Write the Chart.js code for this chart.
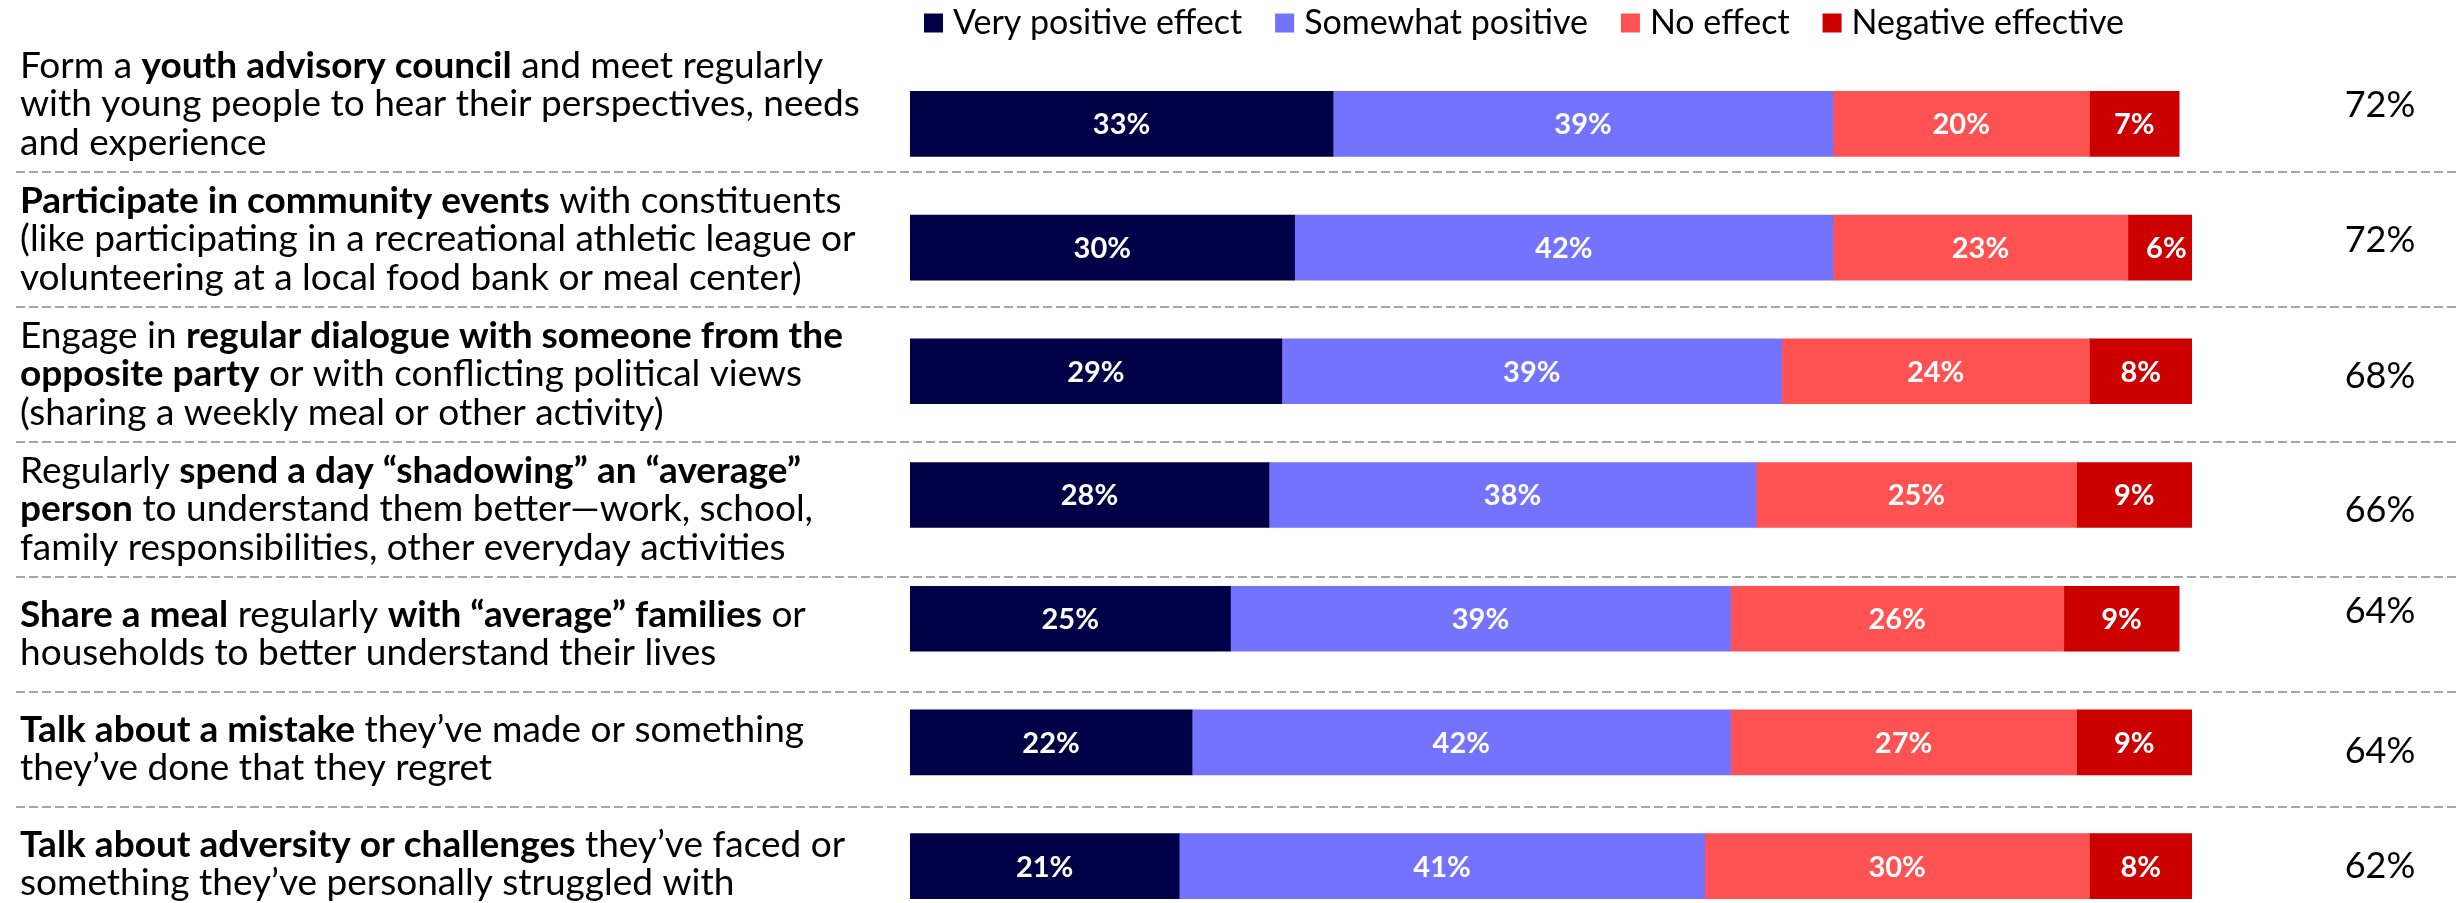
<!DOCTYPE html>
<html><head><meta charset="utf-8">
<script src="https://cdn.jsdelivr.net/npm/chart.js@4.4.1/dist/chart.umd.min.js"></script>
<style>
html,body{margin:0;padding:0;width:2463px;height:903px;overflow:hidden;background:#fff;}
#wrap{position:relative;width:2463px;height:930px;}
</style></head><body>
<div id="wrap"><canvas id="c"></canvas></div>
<script>
// ---- data ----
const categories = [
  'Form a youth advisory council and meet regularly with young people to hear their perspectives, needs and experience',
  'Participate in community events with constituents (like participating in a recreational athletic league or volunteering at a local food bank or meal center)',
  'Engage in regular dialogue with someone from the opposite party or with conflicting political views (sharing a weekly meal or other activity)',
  'Regularly spend a day “shadowing” an “average” person to understand them better—work, school, family responsibilities, other everyday activities',
  'Share a meal regularly with “average” families or households to better understand their lives',
  'Talk about a mistake they’ve made or something they’ve done that they regret',
  'Talk about adversity or challenges they’ve faced or something they’ve personally struggled with'
];
// same labels, split into lines as in the reference; **...** = bold
const labelLines = [
  ['Form a **youth advisory council** and meet regularly', 'with young people to hear their perspectives, needs', 'and experience'],
  ['**Participate in community events** with constituents', '(like participating in a recreational athletic league or', 'volunteering at a local food bank or meal center)'],
  ['Engage in **regular dialogue with someone from the**', '**opposite party** or with conflicting political views', '(sharing a weekly meal or other activity)'],
  ['Regularly **spend a day “shadowing” an “average”**', '**person** to understand them better—work, school,', 'family responsibilities, other everyday activities'],
  ['**Share a meal** regularly **with “average” families** or', 'households to better understand their lives'],
  ['**Talk about a mistake** they’ve made or something', 'they’ve done that they regret'],
  ['**Talk about adversity or challenges** they’ve faced or', 'something they’ve personally struggled with']
];
const seriesNames = ['Very positive effect', 'Somewhat positive', 'No effect', 'Negative effective'];
const veryPositive     = [33, 30, 29, 28, 25, 22, 21];
const somewhatPositive = [39, 42, 39, 38, 39, 42, 41];
const noEffect         = [20, 23, 24, 25, 26, 27, 30];
const negativeEffect   = [7, 6, 8, 9, 9, 9, 8];
const totals           = [72, 72, 68, 66, 64, 64, 62];

// ---- styles ----
const colors = ['#000046', '#7373FF', '#FF5252', '#CC0000'];
const FONT = 'Lato, "Open Sans", sans-serif';
const LABEL_SIZE = 37, LINE_H = 38.5, TOTAL_SIZE = 36, BAR_LABEL_SIZE = 29, LEGEND_SIZE = 34;
const TABLE_TOP = 36.7;
const rowHeightFor = n => (n === 3 ? 135 : 115);
const totalNudge = [1, 1, 2, 1, -23, 2, 2];

function drawRich(ctx, text, x, y, size) {
  const parts = text.split('**');
  let cx = x;
  parts.forEach((p, i) => {
    if (!p) return;
    ctx.font = (i % 2 === 1 ? 'bold ' : '') + size + 'px ' + FONT;
    ctx.fillText(p, cx, y);
    cx += ctx.measureText(p).width;
  });
}

const overlay = {
  id: 'overlay',
  afterDatasetsDraw(chart) {
    const ctx = chart.ctx;
    ctx.save();
    ctx.fillStyle = '#ffffff';
    ctx.textAlign = 'center';
    ctx.textBaseline = 'middle';
    ctx.font = 'bold ' + BAR_LABEL_SIZE + 'px ' + FONT;
    chart.data.datasets.forEach((ds, di) => {
      const meta = chart.getDatasetMeta(di);
      meta.data.forEach((el, i) => {
        const cx = (el.x + el.base) / 2;
        ctx.fillText(ds.data[i] + '%', cx, el.y + 1);
      });
    });
    ctx.restore();
  },
  afterDraw(chart) {
    const ctx = chart.ctx;
    const area = chart.chartArea;
    ctx.save();
    let top = TABLE_TOP;
    labelLines.forEach((lines, r) => {
      const h = rowHeightFor(lines.length);
      const mid = top + h / 2;
      ctx.fillStyle = '#000000';
      ctx.textAlign = 'left';
      ctx.textBaseline = 'middle';
      lines.forEach((ln, k) => {
        const y = mid + (k - (lines.length - 1) / 2) * LINE_H;
        drawRich(ctx, ln, 20, y, LABEL_SIZE);
      });
      ctx.font = TOTAL_SIZE + 'px ' + FONT;
      ctx.textAlign = 'center';
      ctx.fillText(totals[r] + '%', 2380, mid + totalNudge[r]);
      top += h;
      if (r < labelLines.length - 1) {
        ctx.beginPath();
        ctx.setLineDash([9, 4]);
        ctx.lineWidth = 2;
        ctx.strokeStyle = '#A6A6A6';
        ctx.moveTo(16, Math.round(top));
        ctx.lineTo(2456, Math.round(top));
        ctx.stroke();
        ctx.setLineDash([]);
      }
    });
    // legend
    let lx = area.left + 14;
    const ly = 23;
    ctx.textAlign = 'left';
    ctx.textBaseline = 'middle';
    ctx.font = LEGEND_SIZE + 'px ' + FONT;
    chart.data.datasets.forEach((ds) => {
      ctx.fillStyle = ds.backgroundColor;
      ctx.fillRect(lx, ly - 9.5, 19, 19);
      ctx.fillStyle = '#000000';
      ctx.fillText(ds.label, lx + 29, ly);
      lx += 29 + ctx.measureText(ds.label).width + 33;
    });
    ctx.restore();
  }
};

const seriesValues = [veryPositive, somewhatPositive, noEffect, negativeEffect];
const chart = new Chart(document.getElementById('c'), {
  type: 'bar',
  data: {
    labels: categories,
    datasets: seriesNames.map((name, i) => ({
      label: name,
      data: seriesValues[i],
      backgroundColor: colors[i],
      borderWidth: 0,
      barThickness: 65
    }))
  },
  options: {
    indexAxis: 'y',
    responsive: true,
    maintainAspectRatio: false,
    animation: false,
    layout: { padding: { left: 910, right: 271, top: 62, bottom: 2 } },
    scales: {
      x: { stacked: true, min: 0, max: 100, display: false },
      y: { stacked: true, display: false }
    },
    plugins: { legend: { display: false }, tooltip: { enabled: false } }
  },
  plugins: [overlay]
});
</script>
</body></html>
